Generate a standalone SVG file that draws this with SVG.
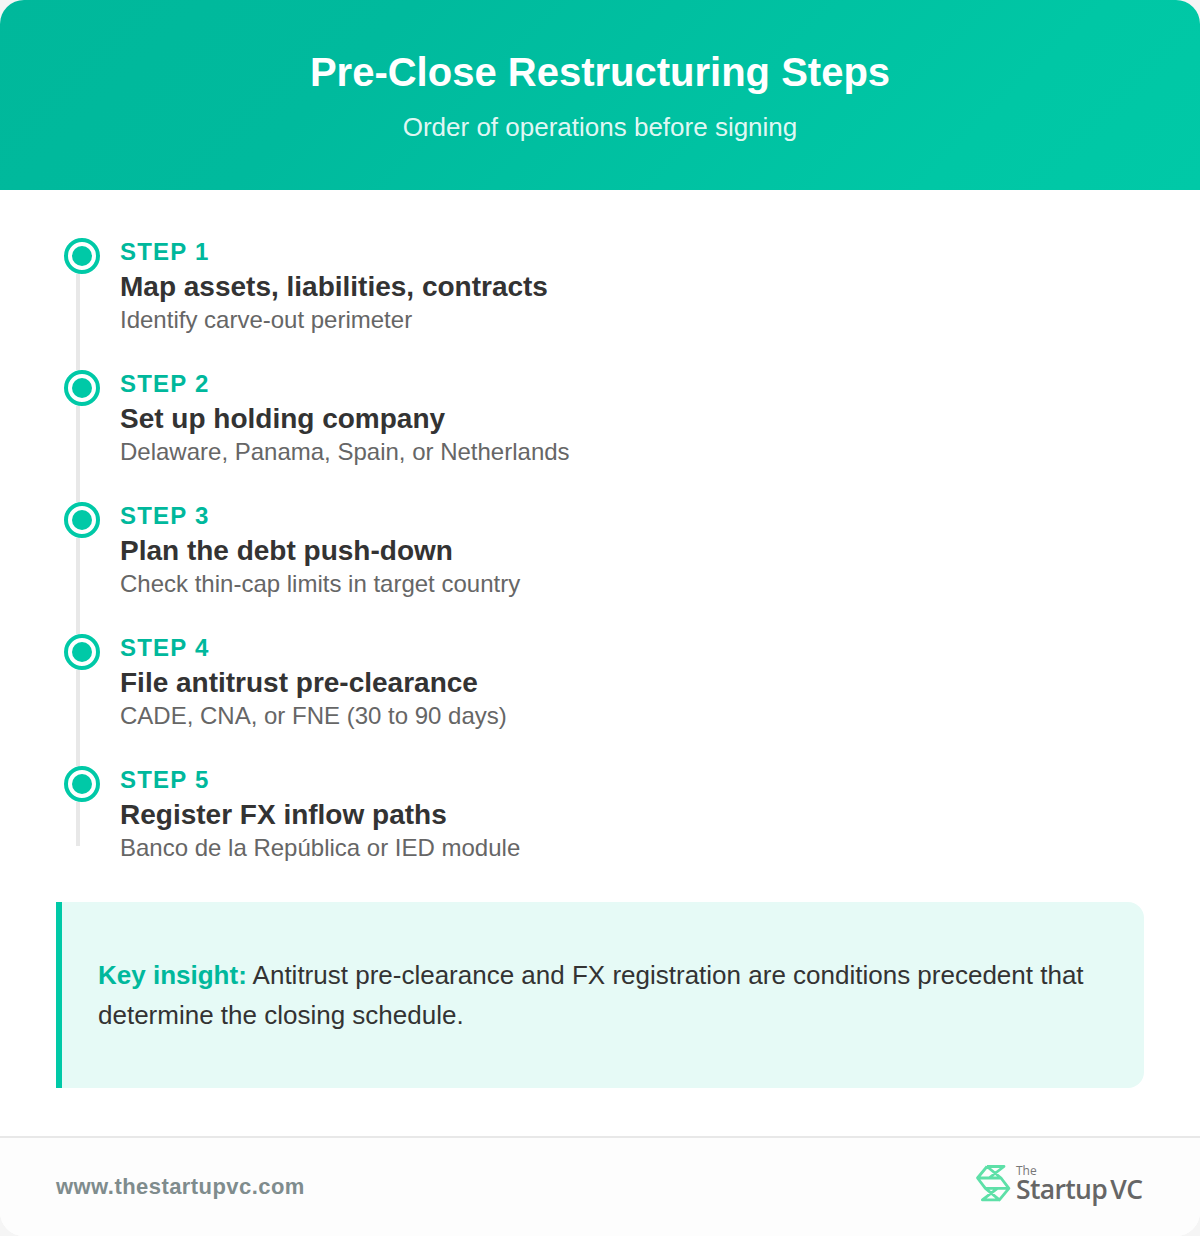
<svg xmlns="http://www.w3.org/2000/svg" width="1200" height="1236" viewBox="0 0 1200 1236">
<style>
text{font-family:"Liberation Sans",Arial,sans-serif}
.s{font-size:24px;font-weight:700;fill:#00b89c;letter-spacing:1.2px}
.t{font-size:28px;font-weight:700;fill:#333}
.d{font-size:24px;fill:#666}
.ring{fill:#fff;stroke:#00c9a7;stroke-width:4}
.dot{fill:#00c9a7}
</style>
<defs>
<linearGradient id="h" gradientUnits="userSpaceOnUse" x1="252.500" y1="-252.500" x2="947.500" y2="442.500"><stop offset="0" stop-color="#00b89b"/><stop offset="0.3" stop-color="#00ba9d"/><stop offset="0.8" stop-color="#00c7a5"/><stop offset="1" stop-color="#00c9a7"/></linearGradient>
<clipPath id="card"><rect width="1200" height="1236" rx="24" ry="24"/></clipPath>
</defs>
<rect width="1200" height="1236" fill="#f5f5f5"/>
<g clip-path="url(#card)">
<rect width="1200" height="1236" fill="#fff"/>
<g id="header">
<rect width="1200" height="190" fill="url(#h)"/>
<text x="600" y="86" text-anchor="middle" font-size="40" font-weight="700" fill="#fff">Pre-Close Restructuring Steps</text>
<text x="600" y="136" text-anchor="middle" font-size="26" fill="#fff" fill-opacity="0.9">Order of operations before signing</text>
</g>
<g id="connectors" fill="#e8e8e8">
<rect x="76" y="274" width="4" height="96"/>
<rect x="76" y="406" width="4" height="96"/>
<rect x="76" y="538" width="4" height="96"/>
<rect x="76" y="670" width="4" height="96"/>
<rect x="76" y="802" width="4" height="44"/>
</g>
<g id="step1"><circle class="ring" cx="82" cy="256" r="16"/><circle class="dot" cx="82" cy="256" r="10"/><text class="s" x="120" y="260">STEP 1</text><text class="t" x="120" y="296">Map assets, liabilities, contracts</text><text class="d" x="120" y="328">Identify carve-out perimeter</text></g>
<g id="step2"><circle class="ring" cx="82" cy="388" r="16"/><circle class="dot" cx="82" cy="388" r="10"/><text class="s" x="120" y="392">STEP 2</text><text class="t" x="120" y="428">Set up holding company</text><text class="d" x="120" y="460">Delaware, Panama, Spain, or Netherlands</text></g>
<g id="step3"><circle class="ring" cx="82" cy="520" r="16"/><circle class="dot" cx="82" cy="520" r="10"/><text class="s" x="120" y="524">STEP 3</text><text class="t" x="120" y="560">Plan the debt push-down</text><text class="d" x="120" y="592">Check thin-cap limits in target country</text></g>
<g id="step4"><circle class="ring" cx="82" cy="652" r="16"/><circle class="dot" cx="82" cy="652" r="10"/><text class="s" x="120" y="656">STEP 4</text><text class="t" x="120" y="692">File antitrust pre-clearance</text><text class="d" x="120" y="724">CADE, CNA, or FNE (30 to 90 days)</text></g>
<g id="step5"><circle class="ring" cx="82" cy="784" r="16"/><circle class="dot" cx="82" cy="784" r="10"/><text class="s" x="120" y="788">STEP 5</text><text class="t" x="120" y="824">Register FX inflow paths</text><text class="d" x="120" y="856">Banco de la República or IED module</text></g>
<g id="insight">
<path d="M56 902H1128A16 16 0 0 1 1144 918V1072A16 16 0 0 1 1128 1088H56Z" fill="#e6faf6"/>
<rect x="56" y="902" width="6" height="186" fill="#00c9a7"/>
<text x="98" y="984" font-size="26" fill="#333"><tspan font-weight="700" fill="#00b89c">Key insight:</tspan> Antitrust pre-clearance and FX registration are conditions precedent that</text>
<text x="98" y="1024" font-size="26" fill="#333">determine the closing schedule.</text>
</g>
<g id="footer">
<rect y="1136" width="1200" height="100" fill="#fdfdfd"/>
<rect y="1136" width="1200" height="2" fill="#e8e8e8"/>
<text x="56" y="1194" font-size="22" font-weight="700" fill="#7f8c8d" letter-spacing="0.44">www.thestartupvc.com</text>
</g>
<g id="logo">
<path fill="none" stroke="#5ee0a8" stroke-width="2.800" stroke-linejoin="round" d="M987 1166.500H1004L989 1178M987 1166.500L977.500 1178H1001L987 1166.500M1001 1178L1008.900 1188.400H985.400L977.500 1178M985.400 1188.400L999.400 1199.900L1008.900 1188.400M999.400 1199.900H982.400L997.400 1188.400"/>
<text x="1016" y="1175" font-size="12" fill="#777" style="font-family:'Open Sans',sans-serif">The</text>
<text x="1016" y="1198.500" font-size="26.500" font-weight="600" fill="#666" word-spacing="-3" textLength="127" style="font-family:'Open Sans',sans-serif">Startup VC</text>
</g>
</g>
</svg>
